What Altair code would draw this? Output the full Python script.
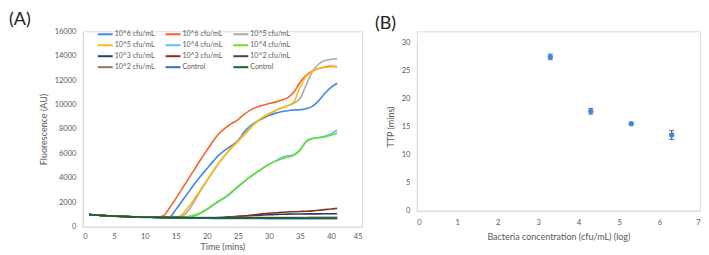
import altair as alt
import pandas as pd

# ---------------- Panel A data ----------------
time_min = list(range(1, 42))

s_1e6_a = [1000, 965, 930, 900, 875, 855, 835, 818, 803, 790, 780, 772, 765, 800, 1400, 2100, 2800, 3500, 4150, 4750,
           5350, 5900, 6300, 6650, 7050, 7750, 8250, 8600, 8850, 9100, 9280, 9420, 9500, 9550, 9580, 9650, 9850, 10300,
           10900, 11400, 11750]
s_1e6_b = [1000, 965, 930, 900, 875, 855, 835, 818, 803, 790, 780, 775, 900, 1550, 2300, 3100, 3900, 4700, 5500, 6250,
           7000, 7650, 8100, 8450, 8750, 9200, 9550, 9780, 9950, 10080, 10200, 10350, 10550, 11000, 11800, 12400, 12750,
           12950, 13080, 13150, 13100]
s_1e5_a = [1000, 965, 930, 900, 875, 855, 835, 818, 803, 790, 780, 772, 765, 760, 757, 850, 1300, 2100, 2950, 3750,
           4500, 5250, 5900, 6500, 7050, 7600, 8150, 8600, 8950, 9250, 9500, 9720, 9900, 10100, 10500, 11600, 12700,
           13300, 13600, 13700, 13750]
s_1e5_b = [1000, 965, 930, 900, 875, 855, 835, 818, 803, 790, 780, 772, 765, 760, 800, 1000, 1600, 2300, 3050, 3800,
           4550, 5300, 5900, 6450, 6950, 7500, 8050, 8550, 8950, 9250, 9500, 9720, 9900, 10200, 11400, 12300, 12700,
           12950, 13050, 13100, 13100]
s_1e4_a = [1000, 965, 930, 900, 875, 855, 835, 818, 803, 790, 780, 772, 765, 760, 757, 760, 790, 880, 1100, 1400,
           1750, 2100, 2400, 2800, 3250, 3680, 4080, 4430, 4780, 5100, 5370, 5650, 5800, 5900, 6300, 7000, 7250, 7300,
           7400, 7600, 7900]
s_1e4_b = [1000, 965, 930, 900, 875, 855, 835, 818, 803, 790, 780, 772, 765, 760, 780, 790, 830, 950, 1150, 1450,
           1800, 2150, 2450, 2850, 3300, 3700, 4100, 4450, 4800, 5100, 5350, 5550, 5700, 5850, 6250, 6950, 7200, 7280,
           7350, 7500, 7650]
s_1e3_a = [1000, 965, 930, 900, 875, 855, 835, 818, 803, 790, 780, 772, 765, 758, 750, 745, 740, 736, 733, 730,
           740, 760, 790, 820, 850, 880, 905, 930, 955, 980, 1000, 1020, 1030, 1040, 1045, 1050, 1052, 1055, 1057,
           1058, 1060]
s_1e3_b = [1000, 965, 930, 900, 875, 855, 835, 818, 803, 790, 780, 772, 765, 758, 750, 745, 740, 736, 733, 730,
           728, 730, 740, 780, 830, 880, 940, 1000, 1050, 1100, 1150, 1180, 1210, 1230, 1250, 1270, 1300, 1350, 1400,
           1450, 1500]
s_1e2_a = [1000, 962, 925, 895, 870, 850, 830, 812, 797, 785, 775, 766, 758, 752, 746, 742, 738, 735, 733, 731,
           730, 729, 728, 727, 726, 726, 725, 725, 725, 724, 724, 724, 723, 723, 723, 722, 722, 722, 722, 721, 721]
s_1e2_b = [1000, 962, 925, 895, 870, 850, 830, 812, 797, 785, 775, 766, 758, 752, 748, 745, 743, 742, 741, 741,
           742, 743, 745, 747, 749, 751, 753, 755, 756, 757, 758, 759, 760, 760, 761, 761, 762, 762, 763, 763, 764]
s_ctrl_a = [1000, 958, 920, 888, 860, 835, 815, 797, 781, 767, 755, 744, 734, 725, 718, 711, 705, 700, 695, 691,
            687, 684, 681, 678, 676, 674, 672, 670, 668, 666, 664, 663, 661, 660, 659, 658, 657, 656, 655, 654, 653]
s_ctrl_b = [1000, 960, 923, 892, 866, 843, 824, 808, 793, 781, 771, 762, 754, 748, 743, 739, 736, 733, 731, 729,
            728, 727, 726, 725, 724, 724, 723, 723, 722, 722, 722, 721, 721, 721, 720, 720, 720, 720, 720, 720, 720]

series_keys = ["10^6 cfu/mL|a", "10^6 cfu/mL|b", "10^5 cfu/mL|a", "10^5 cfu/mL|b",
               "10^4 cfu/mL|a", "10^4 cfu/mL|b", "10^3 cfu/mL|a", "10^3 cfu/mL|b",
               "10^2 cfu/mL|a", "10^2 cfu/mL|b", "Control|a", "Control|b"]
series_values = [s_1e6_a, s_1e6_b, s_1e5_a, s_1e5_b, s_1e4_a, s_1e4_b,
                 s_1e3_a, s_1e3_b, s_1e2_a, s_1e2_b, s_ctrl_a, s_ctrl_b]
series_colors = ["#4186ec", "#f4622d", "#a9a9a9", "#ffbb10", "#5cc0f4", "#6adf2c",
                 "#213f73", "#8e2c1c", "#3c4a4a", "#8d7b4e", "#2f6fc2", "#1f5f22"]

# ---------------- Panel B data ----------------
conc_log = [3.3, 4.3, 5.3, 6.3]
ttp_mins = [27.4, 17.7, 15.5, 13.5]
ttp_err = [0.5, 0.5, 0.2, 0.8]

# ---------------- build tables ----------------
rows = []
for k, vals in zip(series_keys, series_values):
    for t, v in zip(time_min, vals):
        rows.append({"t": t, "v": v, "key": k})
df_a = pd.DataFrame(rows)

df_b = pd.DataFrame({"x": conc_log, "y": ttp_mins,
                     "lo": [y - e for y, e in zip(ttp_mins, ttp_err)],
                     "hi": [y + e for y, e in zip(ttp_mins, ttp_err)]})

FONT = "Lato"
LAB = "#595959"
DOM = "#d9d9d9"

axis_common = dict(grid=False, ticks=False, domainColor=DOM, labelColor=LAB, titleColor=LAB,
                   labelFont=FONT, titleFont=FONT, labelFontSize=7.5, titleFontSize=9,
                   titleFontWeight="normal", labelOverlap=False, format="d")

lines = alt.Chart(df_a).mark_line(interpolate="monotone", strokeWidth=1.6).encode(
    x=alt.X("t:Q", scale=alt.Scale(domain=[0, 45], nice=False),
            axis=alt.Axis(values=list(range(0, 46, 5)), title="Time (mins)",
                          labelPadding=6, titlePadding=2, **axis_common)),
    y=alt.Y("v:Q", scale=alt.Scale(domain=[0, 16000], nice=False),
            axis=alt.Axis(values=list(range(0, 16001, 2000)), title="Fluorescence (AU)",
                          labelPadding=7, titlePadding=6, **axis_common)),
    color=alt.Color("key:N", scale=alt.Scale(domain=series_keys, range=series_colors),
                    legend=alt.Legend(title=None, orient="none", legendX=16.5, legendY=-3,
                                      columns=3, direction="horizontal",
                                      columnPadding=6, rowPadding=1,
                                      symbolType="M-1.5,0L1.5,0", symbolSize=100,
                                      symbolStrokeWidth=2,
                                      labelFont=FONT, labelFontSize=7, labelColor=LAB,
                                      labelOffset=3.5,
                                      labelExpr="split(datum.label, '|')[0]")),
).properties(
    width=280, height=196,
    title=alt.TitleParams("(A)", anchor="start", frame="group", dx=-74, fontSize=18,
                          fontWeight="normal", font=FONT, color="#222222", offset=-2),
)

x_b = alt.X("x:Q", scale=alt.Scale(domain=[0, 7], nice=False),
            axis=alt.Axis(values=list(range(0, 8)), title="Bacteria concentration (cfu/mL)  (log)",
                          labelPadding=8, titlePadding=6, **axis_common))
y_scale_b = alt.Scale(domain=[0, 30], nice=False, range=[180, 11])
y_axis_b = alt.Axis(values=list(range(0, 31, 5)), title="TTP (mins)",
                    labelPadding=7, titlePadding=6, **axis_common)

base_b = alt.Chart(df_b)
bars = base_b.mark_rule(color="#3a4650", strokeWidth=1).encode(
    x=x_b,
    y=alt.Y("lo:Q", scale=y_scale_b, axis=y_axis_b),
    y2="hi:Q",
)
cap_lo = base_b.mark_tick(color="#3a4650", orient="horizontal", size=5, thickness=1).encode(
    x=x_b, y=alt.Y("lo:Q", scale=y_scale_b, axis=y_axis_b))
cap_hi = base_b.mark_tick(color="#3a4650", orient="horizontal", size=5, thickness=1).encode(
    x=x_b, y=alt.Y("hi:Q", scale=y_scale_b, axis=y_axis_b))
pts = base_b.mark_circle(color="#3d85f0", opacity=1, size=28).encode(
    x=x_b, y=alt.Y("y:Q", scale=y_scale_b, axis=y_axis_b))

right = alt.layer(bars, cap_lo, cap_hi, pts).properties(
    width=284, height=180,
    title=alt.TitleParams("(B)", anchor="start", frame="group", dx=-42, fontSize=18,
                          fontWeight="normal", font=FONT, color="#222222", offset=-2),
)

chart = alt.hconcat(lines, right, spacing=11).properties(
    padding={"left": 0, "top": 2, "right": 0, "bottom": 0}
).configure_view(stroke=None).configure(background="white")

chart.save("out.html", embed_options={"renderer": "svg", "actions": False})
